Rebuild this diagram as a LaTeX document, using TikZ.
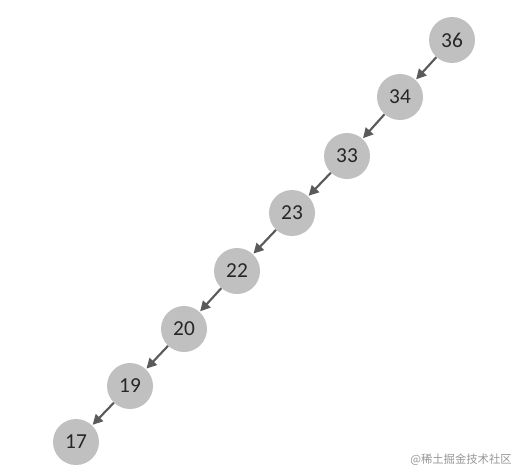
\documentclass[tikz,border=0pt]{standalone}
\usepackage{fontspec}
\setmainfont{Carlito}
\newfontfamily\cjkfont{Noto Sans CJK SC}
\usetikzlibrary{arrows.meta}
\definecolor{nodegray}{RGB}{192,192,192}
\definecolor{edgegray}{RGB}{90,90,90}
\definecolor{wmgray}{RGB}{150,150,150}
\begin{document}
\begin{tikzpicture}[x=0.75pt,y=-0.75pt,
  treenode/.style={circle,fill=nodegray,draw=none,minimum size=34.5pt,inner sep=0pt,font=\fontsize{16}{16}\selectfont,text=black!85},
  edge/.style={draw=edgegray,line width=1.6pt,-{Triangle[length=7.5pt,width=7.5pt]},shorten >=0.5pt}]
\useasboundingbox (0,0) rectangle (516,471);
\node[treenode] (n36) at (452,40) {36};
\node[treenode] (n34) at (400,97) {34};
\node[treenode] (n33) at (347,156) {33};
\node[treenode] (n23) at (292,213) {23};
\node[treenode] (n22) at (237,271) {22};
\node[treenode] (n20) at (184,329) {20};
\node[treenode] (n19) at (130,386) {19};
\node[treenode] (n17) at (76,442) {17};
\draw[edge] (n36) -- (n34);
\draw[edge] (n34) -- (n33);
\draw[edge] (n33) -- (n23);
\draw[edge] (n23) -- (n22);
\draw[edge] (n22) -- (n20);
\draw[edge] (n20) -- (n19);
\draw[edge] (n19) -- (n17);
\node[anchor=east,text=wmgray,font=\cjkfont\fontsize{8.5}{8.5}\selectfont,inner sep=0pt] (wm) at (512,460) {@稀土掘金技术社区};
\end{tikzpicture}
\end{document}
